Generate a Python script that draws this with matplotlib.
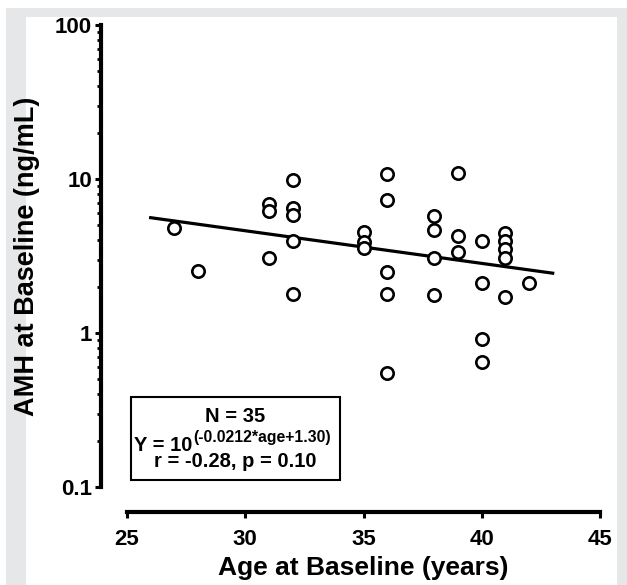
import matplotlib
matplotlib.use('Agg')
import matplotlib.pyplot as plt
from matplotlib.patches import Rectangle
from matplotlib.ticker import LogLocator, NullFormatter
import numpy as np

plt.rcParams['font.family'] = ['Liberation Sans', 'DejaVu Sans']
plt.rcParams['font.weight'] = 'bold'

# age (years) and AMH (ng/mL)
age = [27, 28,
       31, 31, 31,
       32, 32, 32, 32, 32,
       35, 35, 35,
       36, 36, 36, 36, 36,
       38, 38, 38, 38,
       39, 39, 39,
       40, 40, 40, 40,
       41, 41, 41, 41, 41,
       42]
amh = [4.81, 2.53,
       6.85, 6.22, 3.08,
       9.86, 6.45, 5.83, 3.97, 1.78,
       4.51, 3.92, 3.58,
       10.8, 7.31, 2.50, 1.78, 0.547,
       5.78, 4.67, 3.05, 1.77,
       11.0, 4.26, 3.38,
       3.97, 2.12, 0.92, 0.645,
       4.44, 3.97, 3.51, 3.08, 1.72,
       2.12]

# fit reported in the box
slope = -0.0212
intercept = 1.30
fit_range = (26, 43)

box_lines = ['N = 35', 'Y = 10', '(-0.0212*age+1.30)', 'r = -0.28, p = 0.10']

x_ticks = [25, 30, 35, 40, 45]
y_ticks = [0.1, 1, 10, 100]
y_labels = ['0.1', '1', '10', '100']

fig = plt.figure(figsize=(6.27, 5.85), dpi=100)
fig.patch.set_facecolor('white')
# grey frame with white panel
fig.patches.append(Rectangle((6/627, 0), 1, 577/585, transform=fig.transFigure,
                             facecolor='#e6e7e8', edgecolor='none', zorder=-2))
fig.patches.append(Rectangle((26/627, 0), 591/627, 568/585, transform=fig.transFigure,
                             facecolor='white', edgecolor='none', zorder=-1))

ax = fig.add_axes([127/627, 98/585, 473/627, 462/585])
ax.set_facecolor('none')

xl = np.linspace(fit_range[0], fit_range[1], 50)
ax.plot(xl, 10 ** (slope * xl + intercept), color='black', lw=2.3, zorder=2)
ax.plot(age, amh, 'o', ms=8.9, mew=1.9, mfc='white', mec='black', zorder=3, clip_on=False)

ax.set_yscale('log')
ax.set_xlim(25, 45)
ax.set_ylim(0.1, 100)
ax.set_xticks(x_ticks)
ax.set_yticks(y_ticks, labels=y_labels)
ax.yaxis.set_minor_locator(LogLocator(base=10, subs=np.arange(2, 10)))
ax.yaxis.set_minor_formatter(NullFormatter())

for s in ['top', 'right']:
    ax.spines[s].set_visible(False)
ax.spines['left'].set_position(('outward', 18.7))
ax.spines['bottom'].set_position(('outward', 18))
ax.spines['left'].set_linewidth(3)
ax.spines['bottom'].set_linewidth(3)
ax.spines['left'].set_bounds(0.1, 100)
ax.spines['bottom'].set_bounds(25, 45)

ax.tick_params(axis='both', which='major', length=4.5, width=2.2, labelsize=16, color='black')
ax.tick_params(axis='y', which='minor', length=3, width=2)
ax.tick_params(axis='x', pad=8)
ax.tick_params(axis='y', pad=2)

ax.set_xlabel('Age at Baseline (years)', fontsize=19, fontweight='bold', labelpad=4)
ax.set_ylabel('AMH at Baseline (ng/mL)', fontsize=19.5, fontweight='bold', labelpad=11)

# stats box
ax.add_patch(Rectangle((0.0085, 0.0152), 0.4418, 0.1796, transform=ax.transAxes,
                       facecolor='white', edgecolor='black', lw=1.5, zorder=4))
ax.text(0.2294, 0.1413, box_lines[0], transform=ax.transAxes, ha='center', va='baseline',
        fontsize=14.5, fontweight='bold', zorder=5)
ax.text(0.1389, 0.0775, box_lines[1], transform=ax.transAxes, ha='right', va='baseline',
        fontsize=14.5, fontweight='bold', zorder=5)
ax.text(0.1395, 0.0975, box_lines[2], transform=ax.transAxes, ha='left', va='baseline',
        fontsize=11.3, fontweight='bold', zorder=5)
ax.text(0.2294, 0.0430, box_lines[3], transform=ax.transAxes, ha='center', va='baseline',
        fontsize=14.5, fontweight='bold', zorder=5)

fig.savefig('out.png', dpi=100)
